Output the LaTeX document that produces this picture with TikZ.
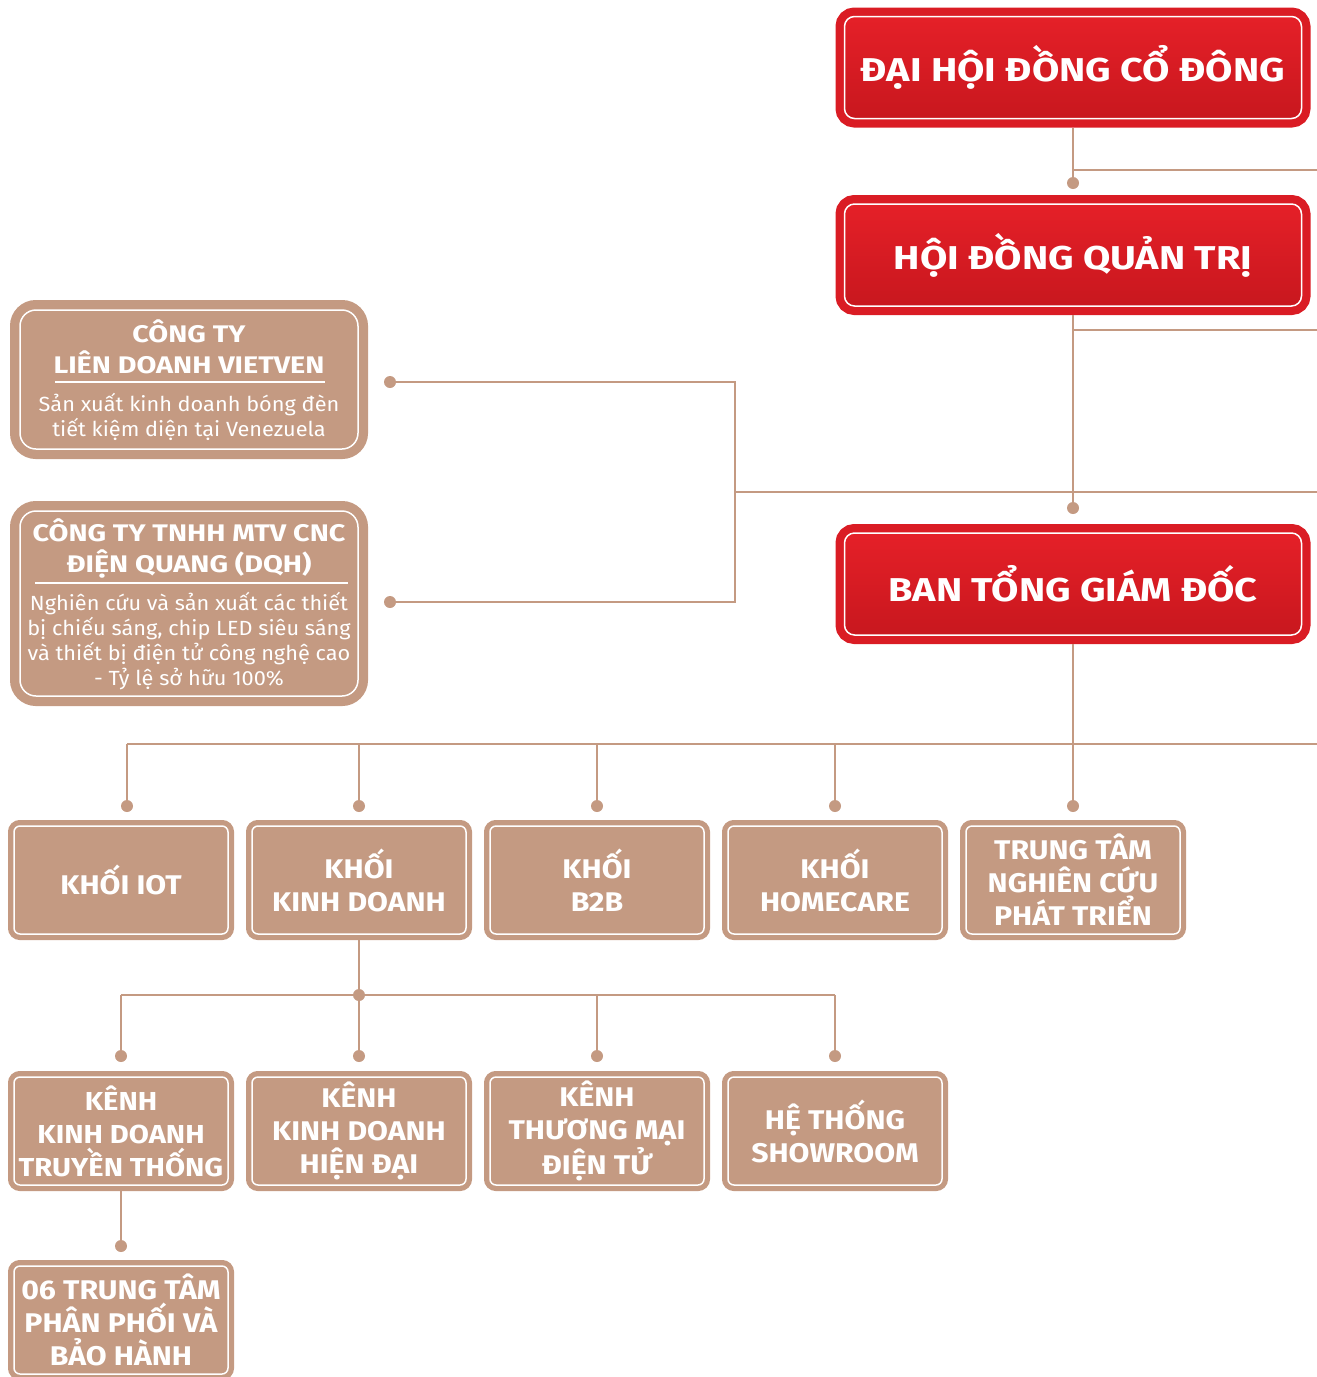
\documentclass[tikz,border=0pt]{standalone}
\usepackage{fontspec}
\setmainfont{Fira Sans}
\newfontfamily\headfont{Fira Sans}[FakeStretch=1.2]
\newfontfamily\boxfont{Fira Sans}[FakeStretch=1.12]
\newfontfamily\descfont{Fira Sans}[FakeStretch=1.06]
\definecolor{dqtan}{HTML}{C49A82}
\definecolor{dqred}{HTML}{DA1C24}
\definecolor{dqredtop}{HTML}{E52028}
\definecolor{dqredbot}{HTML}{C8171E}

\begin{document}
\begin{tikzpicture}[x=1pt, y=-1pt,
	redbox/.style={preaction={draw=dqred, line width=18pt}, top color=dqredtop, bottom color=dqredbot,
		draw=white, line width=1.5pt, rounded corners=10pt, minimum width=457pt, minimum height=102pt,
		inner sep=0pt, outer sep=9pt, text=white, font=\headfont\bfseries\fontsize{33}{40}\selectfont},
	tanbox/.style={preaction={draw=dqtan, line width=12pt}, fill=dqtan, draw=white, line width=1.5pt,
		rounded corners=6pt, minimum width=214pt, minimum height=108pt, inner sep=0pt, outer sep=6pt,
		align=center, text=white, font=\boxfont\bfseries\fontsize{27}{33}\selectfont},
	companybox/.style={preaction={draw=dqtan, line width=20pt}, fill=dqtan, draw=white, line width=1.5pt,
		rounded corners=16pt, minimum width=338pt, inner sep=0pt, outer sep=10pt},
	cotitle/.style={align=center, text=white, inner sep=0pt, font=\headfont\bfseries\fontsize{24}{31}\selectfont},
	codesc/.style={align=center, text=white, inner sep=0pt, font=\descfont\fontsize{20.5}{24.7}\selectfont},
	corule/.style={draw=white, line width=1.5pt},
	joint/.style={circle, fill=dqtan, inner sep=0pt, minimum size=12pt},
	link/.style={draw=dqtan, line width=2pt}]

	\useasboundingbox (0,0) rectangle (1317,1377);

	% ban lanh dao
	\node[redbox] (dhdcd) at (1073,67.5) {ĐẠI HỘI ĐỒNG CỔ ĐÔNG};
	\node[redbox] (hdqt) at (1073,255) {HỘI ĐỒNG QUẢN TRỊ};
	\node[redbox] (btgd) at (1073,584) {BAN TỔNG GIÁM ĐỐC};

	% cong ty con
	\node[companybox, minimum height=139pt] (vietven) at (189,379.5) {};
	\node[cotitle] (vietven-t) at (189,347) {CÔNG TY\\LIÊN DOANH VIETVEN};
	\draw[corule] (55,382) -- (325,382);
	\node[codesc] (vietven-d) at (189,417) {Sản xuất kinh doanh bóng đèn\\tiết kiệm diện tại Venezuela};

	\node[companybox, minimum height=185pt] (dqh) at (189,603.5) {};
	\node[cotitle] (dqh-t) at (189,548) {CÔNG TY TNHH MTV CNC\\ĐIỆN QUANG (DQH)};
	\draw[corule] (35,583) -- (348,583);
	\node[codesc] (dqh-d) at (189,641) {Nghiên cứu và sản xuất các thiết\\bị chiếu sáng, chip LED siêu sáng\\và thiết bị điện tử công nghệ cao\\- Tỷ lệ sở hữu 100\%};

	% cac khoi
	\node[tanbox] (iot) at (121,880) {KHỐI IOT};
	\node[tanbox] (kinhdoanh) at (359,880) {KHỐI\\KINH DOANH};
	\node[tanbox] (btob) at (597,880) {KHỐI\\B2B};
	\node[tanbox] (homecare) at (835,880) {KHỐI\\HOMECARE};
	\node[tanbox] (nckh) at (1073,880) {TRUNG TÂM\\NGHIÊN CỨU\\PHÁT TRIỂN};

	% cac kenh
	\node[tanbox, font=\boxfont\bfseries\fontsize{26}{33}\selectfont] (truyenthong) at (121,1131) {KÊNH\\KINH DOANH\\TRUYỀN THỐNG};
	\node[tanbox] (hiendai) at (359,1131) {KÊNH\\KINH DOANH\\HIỆN ĐẠI};
	\node[tanbox] (tmdt) at (597,1131) {KÊNH\\THƯƠNG MẠI\\ĐIỆN TỬ};
	\node[tanbox] (showroom) at (835,1131) {HỆ THỐNG\\SHOWROOM};

	\node[tanbox] (ttpp) at (121,1320) {06 TRUNG TÂM\\PHÂN PHỐI VÀ\\BẢO HÀNH};

	% duong noi
	\node[joint] (p1) at (1073,183) {};
	\node[joint] (p2) at (1073,508) {};
	\node[joint] (p3) at (1073,806) {};
	\draw[link] (dhdcd.south) -- (p1);
	\draw[link] (hdqt.south) -- (p2);
	\draw[link] (btgd.south) -- (p3);
	\draw[link] (1073,170) -- (1317,170);
	\draw[link] (1073,330) -- (1317,330);
	\draw[link] (1073,744) -- (1317,744);

	\node[joint] (pA) at (390,382) {};
	\node[joint] (pB) at (390,602) {};
	\coordinate (bA) at (735,382);
	\coordinate (bB) at (735,602);
	\coordinate (bM) at (735,492);
	\draw[link] (pA) -- (bA) -- (bB) -- (pB);
	\draw[link] (bM) -- (1317,492);

	\draw[link] (127,744) -- (1073,744);
	\foreach \x in {127,359,597,835} {
		\node[joint] (k\x) at (\x,806) {};
		\draw[link] (\x,744) -- (k\x);
	}

	\node[joint] (pK) at (359,995) {};
	\draw[link] (kinhdoanh.south) -- (pK);
	\draw[link] (121,995) -- (835,995);
	\foreach \x in {121,359,597,835} {
		\node[joint] (c\x) at (\x,1056) {};
		\draw[link] (\x,995) -- (c\x);
	}

	\node[joint] (pT) at (121,1246) {};
	\draw[link] (truyenthong.south) -- (pT);

\end{tikzpicture}
\end{document}
